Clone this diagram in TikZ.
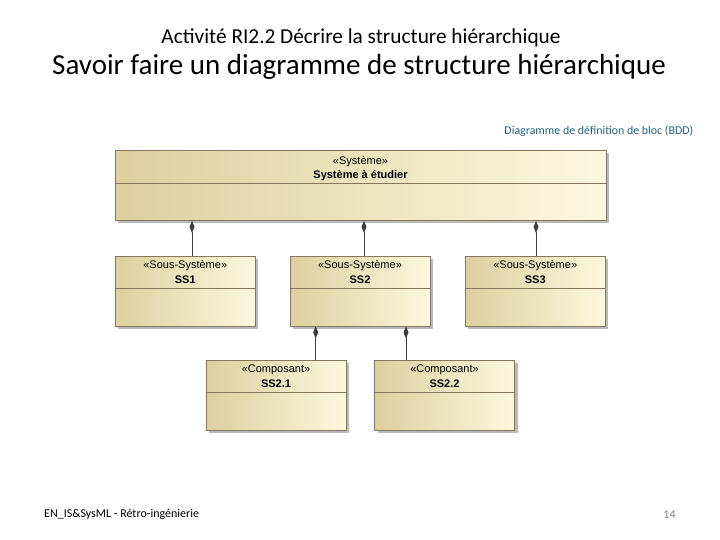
\documentclass[tikz,border=0pt]{standalone}
\usepackage{fontspec}
\setmainfont{Carlito}
\newfontfamily\umlfont{Liberation Sans}
\usetikzlibrary{positioning,shapes,shadows,arrows.meta}
\definecolor{blockdark}{RGB}{221,207,160}
\definecolor{blocklight}{RGB}{252,248,222}
\definecolor{blockline}{RGB}{133,119,90}
\definecolor{linkgray}{RGB}{60,60,60}
\definecolor{bddteal}{RGB}{36,98,128}

\begin{document}
\begin{tikzpicture}[x=1pt,y=1pt]
\tikzstyle{every node}+=[inner sep=0pt]
\tikzstyle{block}=[draw=blockline, line width=0.8pt, left color=blockdark, right color=blocklight, drop shadow={shadow xshift=3pt, shadow yshift=-3pt, fill=black!45, opacity=0.6}, minimum width=140pt, minimum height=70pt]
\tikzstyle{divider}=[draw=blockline, line width=0.8pt]
\tikzstyle{stereo}=[anchor=base, font=\umlfont\fontsize{11}{13}\selectfont]
\tikzstyle{bname}=[anchor=base, font=\umlfont\bfseries\fontsize{11}{13}\selectfont]
\tikzstyle{comp}=[draw=linkgray, line width=0.8pt, -{Diamond[length=12pt,width=5pt]}]
\useasboundingbox (0,0) rectangle (720,-540);
% titles
\node [anchor=base, font=\fontsize{21.3}{25}\selectfont] (act) at (361,-44) {Activité RI2.2 Décrire la structure hiérarchique};
\node [anchor=base, font=\fontsize{29}{34}\selectfont] (savoir) at (359,-75) {Savoir faire un diagramme de structure hiérarchique};
\node [anchor=base east, text=bddteal, font=\fontsize{11.9}{14}\selectfont] (bdd) at (693.5,-135) {Diagramme de définition de bloc (BDD)};
% system block
\node [block, minimum width=491pt] (sys) at (360.5,-185.5) {};
\draw [divider] ([yshift=-33pt]sys.north west) -- ([yshift=-33pt]sys.north east);
\node [stereo] (sysst) at ([yshift=-14pt]sys.north) {«Système»};
\node [bname] (sysnm) at ([yshift=-28.5pt]sys.north) {Système à étudier};
% sub-systems
\node [block] (ss1) at (185.25,-291) {};
\draw [divider] ([yshift=-33pt]ss1.north west) -- ([yshift=-33pt]ss1.north east);
\node [stereo] (ss1st) at ([yshift=-13pt]ss1.north) {«Sous-Système»};
\node [bname] (ss1nm) at ([yshift=-27.5pt]ss1.north) {SS1};
\node [block] (ss2) at (360,-291) {};
\draw [divider] ([yshift=-33pt]ss2.north west) -- ([yshift=-33pt]ss2.north east);
\node [stereo] (ss2st) at ([yshift=-13pt]ss2.north) {«Sous-Système»};
\node [bname] (ss2nm) at ([yshift=-27.5pt]ss2.north) {SS2};
\node [block] (ss3) at (535.25,-291) {};
\draw [divider] ([yshift=-33pt]ss3.north west) -- ([yshift=-33pt]ss3.north east);
\node [stereo] (ss3st) at ([yshift=-13pt]ss3.north) {«Sous-Système»};
\node [bname] (ss3nm) at ([yshift=-27.5pt]ss3.north) {SS3};
% components of SS2
\node [block] (ss21) at (276,-395.25) {};
\draw [divider] ([yshift=-33pt]ss21.north west) -- ([yshift=-33pt]ss21.north east);
\node [stereo] (ss21st) at ([yshift=-13pt]ss21.north) {«Composant»};
\node [bname] (ss21nm) at ([yshift=-27.5pt]ss21.north) {SS2.1};
\node [block] (ss22) at (444.5,-395.25) {};
\draw [divider] ([yshift=-33pt]ss22.north west) -- ([yshift=-33pt]ss22.north east);
\node [stereo] (ss22st) at ([yshift=-13pt]ss22.north) {«Composant»};
\node [bname] (ss22nm) at ([yshift=-27.5pt]ss22.north) {SS2.2};
% composition links
\draw [comp] ([xshift=6.75pt]ss1.north) -- ([xshift=6.75pt]ss1.north |- sys.south);
\draw [comp] ([xshift=4pt]ss2.north) -- ([xshift=4pt]ss2.north |- sys.south);
\draw [comp] ([xshift=0.75pt]ss3.north) -- ([xshift=0.75pt]ss3.north |- sys.south);
\draw [comp] ([xshift=39.7pt]ss21.north) -- ([xshift=39.7pt]ss21.north |- ss2.south);
\draw [comp] ([xshift=-38.5pt]ss22.north) -- ([xshift=-38.5pt]ss22.north |- ss2.south);
% footer
\node [anchor=base west, font=\fontsize{12}{14}\selectfont] (foot) at (44,-517) {EN\_IS\&SysML - Rétro-ingénierie};
\node [anchor=base, text=gray, font=\fontsize{12}{14}\selectfont] (page) at (669.5,-518) {14};
\end{tikzpicture}
\end{document}
